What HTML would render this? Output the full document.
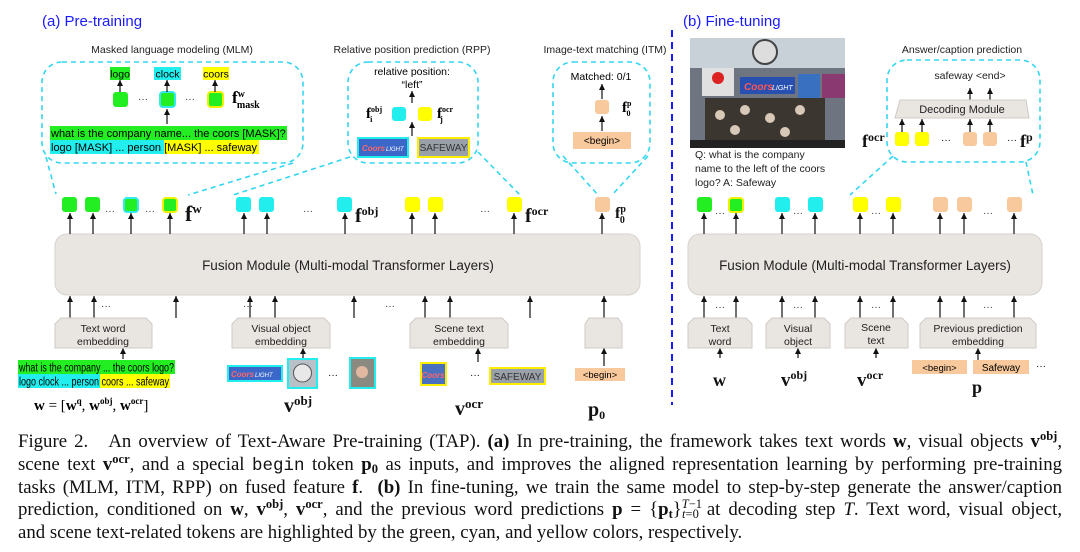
<!DOCTYPE html>
<html><head><meta charset="utf-8"><style>
body{margin:0;width:1080px;height:552px;background:#fff;overflow:hidden;position:relative;font-family:"Liberation Sans",sans-serif}
svg{position:absolute;left:0;top:0}
.cap{position:absolute;left:18px;top:431px;width:1044px;font-family:"Liberation Serif",serif;font-size:18.8px;line-height:22.8px;color:#111}
.cap div{text-align:justify;text-align-last:justify;white-space:nowrap;height:22.8px}
.cap div.l{text-align-last:left}
.cap sup{font-size:12.5px;line-height:0;font-weight:bold;vertical-align:7px}
.cap sub{font-size:12.5px;line-height:0;font-weight:bold;vertical-align:-3px}
.tt{font-family:"Liberation Mono",monospace;font-size:17.5px}
</style></head><body>
<svg width="1080" height="430" viewBox="0 0 1080 430" font-family="Liberation Sans, sans-serif">
<defs>
<marker id="a" markerWidth="5" markerHeight="5" refX="6" refY="3" orient="auto" viewBox="0 0 6 6"><path d="M0,0 L6,3 L0,6 z" fill="#111"/></marker>
</defs>
<g fill="#1a1aff" font-size="15">
<text x="42" y="26">(a) Pre-training</text>
<text x="683" y="26">(b) Fine-tuning</text>
</g>
<line x1="672" y1="30" x2="672" y2="405" stroke="#1a1aff" stroke-width="2" stroke-dasharray="7,5"/>
<g font-size="10.5" fill="#222" text-anchor="middle">
<text x="172" y="53">Masked language modeling (MLM)</text>
<text x="412" y="53">Relative position prediction (RPP)</text>
<text x="605" y="53">Image-text matching (ITM)</text>
<text x="962" y="53">Answer/caption prediction</text>
</g>
<g fill="none" stroke="#33d6f0" stroke-width="1.6" stroke-dasharray="5,4">
<rect x="42" y="62" width="261" height="101" rx="20"/>
<rect x="348" y="62" width="130" height="101" rx="20"/>
<rect x="553" y="62" width="97" height="101" rx="20"/>
<rect x="887" y="60" width="153" height="102" rx="20"/>
<line x1="46" y1="157" x2="56" y2="194"/>
<line x1="293" y1="163" x2="188" y2="195"/>
<line x1="350" y1="157" x2="233" y2="195"/>
<line x1="478" y1="152" x2="520" y2="195"/>
<line x1="563" y1="156" x2="598" y2="195"/>
<line x1="648" y1="156" x2="612" y2="195"/>
<line x1="893" y1="156" x2="850" y2="195"/>
<line x1="1026" y1="162" x2="1033" y2="195"/>
</g>
<rect x="110" y="67" width="20" height="13" fill="#22ee22"/><text x="120" y="77.5" font-size="10.5" text-anchor="middle">logo</text>
<rect x="154" y="67" width="27" height="13" fill="#22eeee"/><text x="167.5" y="77.5" font-size="10.5" text-anchor="middle">clock</text>
<rect x="203" y="67" width="26" height="13" fill="#ffff00"/><text x="216" y="77.5" font-size="10.5" text-anchor="middle">coors</text>
<rect x="113" y="92" width="15" height="15" rx="3" fill="#22ee22"/>
<rect x="160" y="92" width="15" height="15" rx="3" fill="#22ee22" stroke="#33e8f0" stroke-width="2"/>
<rect x="208" y="92" width="15" height="15" rx="3" fill="#22ee22" stroke="#f0f000" stroke-width="2"/>
<g font-size="10" fill="#333"><text x="138" y="102">···</text><text x="185" y="102">···</text></g>
<text x="232" y="103" font-family="Liberation Serif" font-weight="bold" font-size="17">f<tspan font-size="10" dy="-6">w</tspan><tspan font-size="10" dx="-8" dy="11">mask</tspan></text>
<rect x="50" y="126" width="237" height="14" fill="#22ee22"/>
<rect x="50" y="140" width="114" height="14" fill="#22eeee"/>
<rect x="164" y="140" width="95" height="14" fill="#ffff00"/>
<text x="51" y="137" font-size="11">what is the company name... the coors [MASK]?</text>
<text x="51" y="151" font-size="11">logo [MASK] ... person [MASK] ... safeway</text>
<text x="412" y="75" font-size="10.5" text-anchor="middle">relative position:</text>
<text x="412" y="88" font-size="10.5" text-anchor="middle">“left”</text>
<rect x="392" y="107" width="14" height="14" rx="3" fill="#22eeee"/>
<rect x="418" y="107" width="14" height="14" rx="3" fill="#ffff00"/>
<text x="366" y="118" font-family="Liberation Serif" font-weight="bold" font-size="15">f<tspan font-size="8" dy="-6">obj</tspan><tspan font-size="8" dx="-12" dy="10">i</tspan></text>
<text x="437" y="118" font-family="Liberation Serif" font-weight="bold" font-size="15">f<tspan font-size="8" dy="-6">ocr</tspan><tspan font-size="8" dx="-13" dy="10">j</tspan></text>
<rect x="358" y="138" width="50" height="19" fill="#3b67c8" stroke="#22eeee" stroke-width="2"/><text x="362" y="151" font-size="8" fill="#f66" font-style="italic" font-weight="bold">Coors</text><text x="386" y="151" font-size="6" fill="#fff" font-style="italic">LIGHT</text>
<rect x="418" y="138" width="51" height="19" fill="#9aa0a8" stroke="#ffee00" stroke-width="2"/><text x="443.5" y="151" font-size="10" fill="#333" text-anchor="middle">SAFEWAY</text>
<text x="601" y="80" font-size="10.5" text-anchor="middle">Matched: 0/1</text>
<rect x="595" y="100" width="14" height="14" rx="3" fill="#f8c99c"/>
<text x="622" y="112" font-family="Liberation Serif" font-weight="bold" font-size="15">f<tspan font-size="8" dy="-6">p</tspan><tspan font-size="8" dx="-5" dy="10">0</tspan></text>
<rect x="573" y="132" width="58" height="17" fill="#f8c99c"/><text x="602" y="144" font-size="10" text-anchor="middle">&lt;begin&gt;</text>
<rect x="55" y="234" width="585" height="61" rx="12" fill="#e9e5e1" stroke="#d6d2ce"/>
<text x="348" y="270" font-size="13.5" text-anchor="middle" fill="#222">Fusion Module (Multi-modal Transformer Layers)</text>
<rect x="688" y="234" width="354" height="61" rx="12" fill="#e9e5e1" stroke="#d6d2ce"/>
<text x="865" y="270" font-size="13.5" text-anchor="middle" fill="#222">Fusion Module (Multi-modal Transformer Layers)</text>
<g stroke-width="2">
<rect x="62" y="197" width="15" height="15" rx="3" fill="#22ee22"/>
<rect x="85" y="197" width="15" height="15" rx="3" fill="#22ee22"/>
<rect x="124" y="198" width="14" height="14" rx="3" fill="#22ee22" stroke="#33e8f0"/>
<rect x="163" y="198" width="14" height="14" rx="3" fill="#22ee22" stroke="#f0f000"/>
<rect x="236" y="197" width="15" height="15" rx="3" fill="#22eeee"/>
<rect x="259" y="197" width="15" height="15" rx="3" fill="#22eeee"/>
<rect x="337" y="197" width="15" height="15" rx="3" fill="#22eeee"/>
<rect x="405" y="197" width="15" height="15" rx="3" fill="#ffff00"/>
<rect x="428" y="197" width="15" height="15" rx="3" fill="#ffff00"/>
<rect x="507" y="197" width="15" height="15" rx="3" fill="#ffff00"/>
<rect x="595" y="197" width="15" height="15" rx="3" fill="#f8c99c"/>
<rect x="697" y="197" width="15" height="15" rx="3" fill="#22ee22"/>
<rect x="729" y="198" width="14" height="14" rx="3" fill="#22ee22" stroke="#f0f000"/>
<rect x="775" y="197" width="15" height="15" rx="3" fill="#22eeee"/>
<rect x="808" y="197" width="15" height="15" rx="3" fill="#22eeee"/>
<rect x="853" y="197" width="15" height="15" rx="3" fill="#ffff00"/>
<rect x="886" y="197" width="15" height="15" rx="3" fill="#ffff00"/>
<rect x="933" y="197" width="15" height="15" rx="3" fill="#f8c99c"/>
<rect x="957" y="197" width="15" height="15" rx="3" fill="#f8c99c"/>
<rect x="1007" y="197" width="15" height="15" rx="3" fill="#f8c99c"/>
</g>
<g font-size="10" fill="#333">
<text x="105" y="214">···</text><text x="145" y="214">···</text><text x="303" y="214">···</text><text x="480" y="214">···</text>
<text x="715" y="216">···</text><text x="793" y="216">···</text><text x="871" y="216">···</text><text x="983" y="216">···</text>
<text x="101" y="309">···</text><text x="243" y="309">···</text><text x="385" y="309">···</text>
<text x="715" y="310">···</text><text x="793" y="310">···</text><text x="871" y="310">···</text><text x="983" y="310">···</text>
</g>
<g font-family="Liberation Serif" font-weight="bold" fill="#111">
<text x="185" y="221" font-size="22">f<tspan font-size="13" dy="-8">w</tspan></text>
<text x="355" y="222" font-size="20">f<tspan font-size="12" dy="-7">obj</tspan></text>
<text x="525" y="222" font-size="20">f<tspan font-size="12" dy="-7">ocr</tspan></text>
<text x="615" y="218" font-size="16">f<tspan font-size="10" dy="-6">p</tspan><tspan font-size="10" dx="-6" dy="11">0</tspan></text>
</g>
<g stroke="#111" stroke-width="1.2" marker-end="url(#a)">
<line x1="70" y1="234" x2="70" y2="213"/><line x1="93" y1="234" x2="93" y2="213"/><line x1="131" y1="234" x2="131" y2="213"/><line x1="170" y1="234" x2="170" y2="213"/>
<line x1="244" y1="234" x2="244" y2="213"/><line x1="267" y1="234" x2="267" y2="213"/><line x1="345" y1="234" x2="345" y2="213"/>
<line x1="412" y1="234" x2="412" y2="213"/><line x1="435" y1="234" x2="435" y2="213"/><line x1="514" y1="234" x2="514" y2="213"/><line x1="602" y1="234" x2="602" y2="213"/>
<line x1="704" y1="234" x2="704" y2="213"/><line x1="736" y1="234" x2="736" y2="213"/><line x1="782" y1="234" x2="782" y2="213"/><line x1="815" y1="234" x2="815" y2="213"/><line x1="860" y1="234" x2="860" y2="213"/><line x1="893" y1="234" x2="893" y2="213"/><line x1="940" y1="234" x2="940" y2="213"/><line x1="964" y1="234" x2="964" y2="213"/><line x1="1014" y1="234" x2="1014" y2="213"/>
<line x1="70" y1="318" x2="70" y2="296"/><line x1="94" y1="318" x2="94" y2="296"/><line x1="176" y1="318" x2="176" y2="296"/>
<line x1="250" y1="318" x2="250" y2="296"/><line x1="275" y1="318" x2="275" y2="296"/><line x1="354" y1="318" x2="354" y2="296"/>
<line x1="425" y1="318" x2="425" y2="296"/><line x1="450" y1="318" x2="450" y2="296"/><line x1="530" y1="318" x2="530" y2="296"/><line x1="604" y1="318" x2="604" y2="296"/>
<line x1="704" y1="318" x2="704" y2="296"/><line x1="736" y1="318" x2="736" y2="296"/><line x1="782" y1="318" x2="782" y2="296"/><line x1="815" y1="318" x2="815" y2="296"/><line x1="860" y1="318" x2="860" y2="296"/><line x1="893" y1="318" x2="893" y2="296"/><line x1="940" y1="318" x2="940" y2="296"/><line x1="964" y1="318" x2="964" y2="296"/><line x1="1014" y1="318" x2="1014" y2="296"/>
<line x1="123" y1="359" x2="123" y2="348"/><line x1="303" y1="358" x2="303" y2="348"/><line x1="478" y1="362" x2="478" y2="348"/><line x1="604" y1="366" x2="604" y2="348"/>
<line x1="720" y1="358" x2="720" y2="348"/><line x1="798" y1="358" x2="798" y2="348"/><line x1="876" y1="358" x2="876" y2="348"/><line x1="978" y1="360" x2="978" y2="348"/>
<line x1="120" y1="92" x2="120" y2="80"/><line x1="167" y1="92" x2="167" y2="80"/><line x1="215" y1="92" x2="215" y2="80"/>
<line x1="167" y1="124" x2="167" y2="109"/>
<line x1="412" y1="103" x2="412" y2="91"/><line x1="412" y1="136" x2="412" y2="122"/>
<line x1="602" y1="99" x2="602" y2="84"/><line x1="602" y1="131" x2="602" y2="116"/>
<line x1="970" y1="101" x2="970" y2="88"/><line x1="990" y1="101" x2="990" y2="88"/>
<line x1="902" y1="132" x2="902" y2="119"/><line x1="922" y1="132" x2="922" y2="119"/><line x1="970" y1="132" x2="970" y2="119"/><line x1="990" y1="132" x2="990" y2="119"/>
</g>
<g fill="#e9e5e1" stroke="#cfcac5">
<path d="M61,318 H146 L152,324 V348 H55 V324 Z"/>
<path d="M238,318 H324 L330,324 V348 H232 V324 Z"/>
<path d="M416,318 H502 L508,324 V348 H410 V324 Z"/>
<path d="M589,318 H618 L622,324 V348 H585 V324 Z"/>
<path d="M694,318 H746 L752,324 V348 H688 V324 Z"/>
<path d="M772,318 H824 L830,324 V348 H766 V324 Z"/>
<path d="M851,318 H902 L908,324 V348 H845 V324 Z"/>
<path d="M926,318 H1030 L1036,324 V348 H920 V324 Z"/>
<path d="M900,100 H1026 L1029,118 H895 Z"/>
</g>
<g font-size="10.5" fill="#222" text-anchor="middle">
<text x="103" y="332">Text word</text><text x="103" y="345">embedding</text>
<text x="281" y="332">Visual object</text><text x="281" y="345">embedding</text>
<text x="459" y="332">Scene text</text><text x="459" y="345">embedding</text>
<text x="720" y="332">Text</text><text x="720" y="345">word</text>
<text x="798" y="332">Visual</text><text x="798" y="345">object</text>
<text x="876" y="331">Scene</text><text x="876" y="344">text</text>
<text x="978" y="332">Previous prediction</text><text x="978" y="345">embedding</text>
<text x="962" y="113" font-size="11">Decoding Module</text>
<text x="970" y="79">safeway &lt;end&gt;</text>
</g>
<rect x="18" y="360" width="157" height="14" fill="#22ee22"/>
<rect x="18" y="374" width="82" height="14" fill="#22eeee"/>
<rect x="100" y="374" width="70" height="14" fill="#ffff00"/>
<text x="19" y="371.5" font-size="11.5" textLength="155" lengthAdjust="spacingAndGlyphs">what is the company ... the coors logo?</text>
<text x="19" y="385.5" font-size="11.5" textLength="150" lengthAdjust="spacingAndGlyphs">logo clock ... person coors ... safeway</text>
<text x="34" y="410" font-family="Liberation Serif" font-size="15"><tspan font-weight="bold">w</tspan> = [<tspan font-weight="bold">w</tspan><tspan font-size="9" dy="-6" font-weight="bold">q</tspan><tspan dy="6">, </tspan><tspan font-weight="bold">w</tspan><tspan font-size="9" dy="-6" font-weight="bold">obj</tspan><tspan dy="6">, </tspan><tspan font-weight="bold">w</tspan><tspan font-size="9" dy="-6" font-weight="bold">ocr</tspan><tspan dy="6">]</tspan></text>
<rect x="228" y="366" width="54" height="15" fill="#3b67c8" stroke="#22eeee" stroke-width="2"/><text x="231" y="377" font-size="8" fill="#f66" font-style="italic" font-weight="bold">Coors</text><text x="255" y="377" font-size="6" fill="#fff" font-style="italic">LIGHT</text>
<rect x="288" y="359" width="29" height="29" fill="#b8c0c8" stroke="#22eeee" stroke-width="2"/><circle cx="302.5" cy="373" r="9" fill="#e8e8e8" stroke="#555"/>
<text x="328" y="378" font-size="10">···</text>
<rect x="350" y="358" width="25" height="30" fill="#8a8a80" stroke="#22eeee" stroke-width="2"/><circle cx="362" cy="372" r="6" fill="#e0b8a0"/>
<rect x="421" y="363" width="25" height="22" fill="#4a70c0" stroke="#ffee00" stroke-width="2"/><text x="433" y="378" font-size="8" fill="#f66" font-style="italic" font-weight="bold" text-anchor="middle">Coors</text>
<text x="470" y="378" font-size="10">···</text>
<rect x="490" y="368" width="55" height="16" fill="#9aa0a8" stroke="#ffee00" stroke-width="2"/><text x="517.5" y="380" font-size="10" fill="#333" text-anchor="middle">SAFEWAY</text>
<rect x="575" y="368" width="50" height="13" fill="#f8c99c"/><text x="600" y="378" font-size="9.5" text-anchor="middle">&lt;begin&gt;</text>
<g font-family="Liberation Serif" font-weight="bold" fill="#111">
<text x="284" y="412" font-size="20">v<tspan font-size="13" dy="-7">obj</tspan></text>
<text x="455" y="415" font-size="20">v<tspan font-size="13" dy="-7">ocr</tspan></text>
<text x="588" y="416" font-size="20">p<tspan font-size="12" dy="3">0</tspan></text>
<text x="713" y="386" font-size="18">w</text>
<text x="781" y="386" font-size="19">v<tspan font-size="12" dy="-7">obj</tspan></text>
<text x="857" y="386" font-size="19">v<tspan font-size="12" dy="-7">ocr</tspan></text>
<text x="972" y="393" font-size="18">p</text>
<text x="862" y="147" font-size="18">f<tspan font-size="12" dy="-6">ocr</tspan></text>
<text x="1020" y="147" font-size="18">f<tspan font-size="12" dy="-6">p</tspan></text>
</g>
<rect x="912" y="360" width="55" height="14" fill="#f8c99c"/><text x="939.5" y="371" font-size="9.5" text-anchor="middle">&lt;begin&gt;</text>
<rect x="973" y="360" width="56" height="14" fill="#f8c99c"/><text x="1001" y="371" font-size="10" text-anchor="middle">Safeway</text>
<text x="1036" y="369" font-size="10">···</text>
<rect x="895" y="132" width="14" height="14" rx="3" fill="#ffff00"/>
<rect x="915" y="132" width="14" height="14" rx="3" fill="#ffff00"/>
<rect x="963" y="132" width="14" height="14" rx="3" fill="#f8c99c"/>
<rect x="983" y="132" width="14" height="14" rx="3" fill="#f8c99c"/>
<text x="941" y="143" font-size="10">···</text><text x="1007" y="143" font-size="10">···</text>
<rect x="690" y="38" width="155" height="110" fill="#6e7480"/>
<rect x="690" y="38" width="155" height="30" fill="#c8d0d8"/>
<circle cx="765" cy="52" r="12" fill="#ddd" stroke="#444" stroke-width="2"/>
<rect x="740" y="77" width="55" height="17" fill="#2850b0"/><text x="744" y="90" font-size="10" fill="#f55" font-style="italic" font-weight="bold">Coors</text><text x="772" y="90" font-size="7" fill="#fff" font-style="italic">LIGHT</text>
<rect x="702" y="68" width="32" height="28" fill="#e0e0e0"/><circle cx="718" cy="78" r="6" fill="#d22"/>
<rect x="798" y="74" width="22" height="24" fill="#3a70c0"/><rect x="822" y="74" width="23" height="24" fill="#8a3a70"/>
<rect x="705" y="98" width="120" height="42" fill="#3c3630"/>
<g fill="#d8c8b8"><circle cx="720" cy="115" r="5"/><circle cx="745" cy="110" r="5"/><circle cx="770" cy="118" r="5"/><circle cx="800" cy="110" r="5"/><circle cx="735" cy="130" r="5"/><circle cx="785" cy="132" r="5"/></g>
<rect x="690" y="140" width="155" height="8" fill="#222"/>
<g font-size="10.5" fill="#222">
<text x="695" y="158">Q: what is the company</text>
<text x="695" y="172">name to the left of the coors</text>
<text x="695" y="186">logo? A: Safeway</text>
</g>
</svg>
<div class="cap">
<div>Figure 2.&nbsp;&nbsp; An overview of Text-Aware Pre-training (TAP). <b>(a)</b> In pre-training, the framework takes text words <b>w</b>, visual objects <b>v</b><sup>obj</sup>,</div>
<div>scene text <b>v</b><sup>ocr</sup>, and a special <span class="tt">begin</span> token <b>p</b><sub>0</sub> as inputs, and improves the aligned representation learning by performing pre-training</div>
<div>tasks (MLM, ITM, RPP) on fused feature <b>f</b>.&nbsp; <b>(b)</b> In fine-tuning, we train the same model to step-by-step generate the answer/caption</div>
<div>prediction, conditioned on <b>w</b>, <b>v</b><sup>obj</sup>, <b>v</b><sup>ocr</sup>, and the previous word predictions <b>p</b> = {<b>p</b><sub>t</sub>}<sup style="font-weight:normal"><i>T</i>−1</sup><sub style="font-weight:normal;margin-left:-20px"><i>t</i>=0</sub> at decoding step <i>T</i>. Text word, visual object,</div>
<div class="l">and scene text-related tokens are highlighted by the green, cyan, and yellow colors, respectively.</div>
</div>
</body></html>
